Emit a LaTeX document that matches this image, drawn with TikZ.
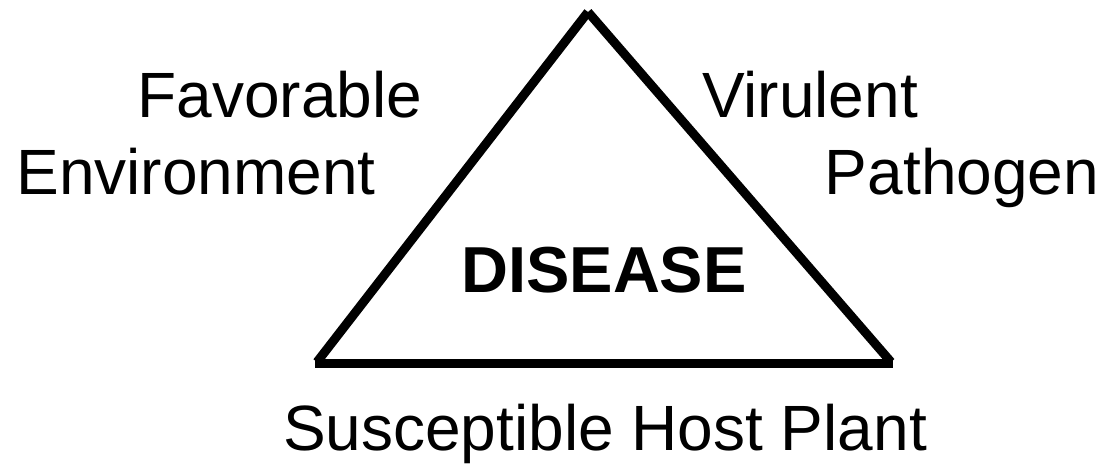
\documentclass[tikz,border=0pt]{standalone}
\usepackage{fontspec}
\setmainfont{Liberation Sans}
\begin{document}
\begin{tikzpicture}[x=1pt,y=-1pt,
  side/.style={line width=9pt,line cap=butt},
  label/.style={inner sep=0pt,anchor=base,font=\fontsize{64}{77}\selectfont},
  centre/.style={inner sep=0pt,anchor=base,font=\fontsize{65}{78}\selectfont\bfseries}]
  \useasboundingbox[fill=white] (0,0) rectangle (1103,464);

  % corners of the triangle
  \coordinate (apex) at (588,12);
  \coordinate (bl) at (317,362);
  \coordinate (br) at (891,362);
  \coordinate (bll) at (315,363.5);
  \coordinate (brr) at (893,363.5);

  % three separate sides
  \draw[side] (bl) -- (apex);
  \draw[side] (apex) -- (br);
  \draw[side] (bll) -- (brr);

  % labels
  \node[label] (fav) at (280,117) {Favorable};
  \node[label] (env) at (196,194) {Environment};
  \node[label] (vir) at (810,117) {Virulent};
  \node[label] (pat) at (962,194) {Pathogen};
  \node[centre] (dis) at (604,292) {DISEASE};
  \node[label] (host) at (605,450) {Susceptible Host Plant};
\end{tikzpicture}
\end{document}
